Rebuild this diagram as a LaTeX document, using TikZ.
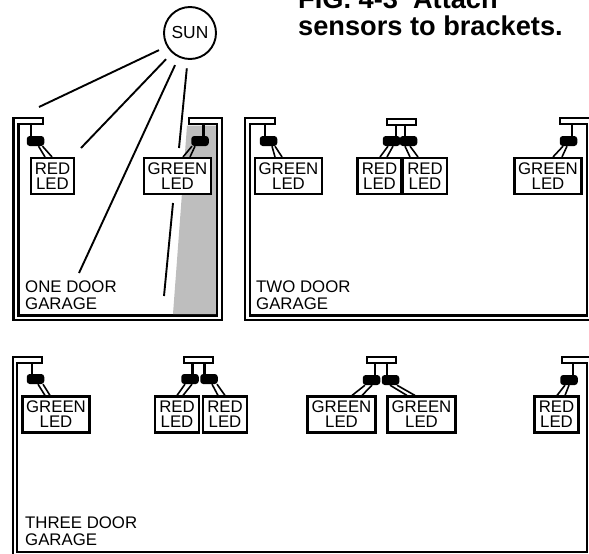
\documentclass[tikz,border=0pt]{standalone}
\usepackage{fontspec}
\setmainfont{Liberation Sans}
\usetikzlibrary{positioning}
\definecolor{shadow}{RGB}{190,190,190}
\tikzset{
  wall/.style={line width=2.3pt, fill=white, line join=miter},
  ledbox/.style={draw, line width=2.1pt, fill=white, inner sep=0pt, minimum height=36pt, align=center, font=\fontsize{16.8}{15}\selectfont},
  sensor/.style={fill=black, rounded corners=3pt, inner sep=0pt, minimum width=17.5pt, minimum height=10pt},
  plate/.style={draw, line width=2pt, fill=white, inner sep=0pt, minimum width=29pt, minimum height=6pt},
  stem/.style={line width=2.4pt},
  lead/.style={line width=1.6pt},
  sunray/.style={line width=1.9pt, shorten <=8.5pt},
  garagelabel/.style={inner sep=0pt, align=left, anchor=south west, font=\fontsize{16.8}{17.5}\selectfont}
}
\begin{document}
\begin{tikzpicture}[x=1pt, y=-1pt]
  \useasboundingbox (0,0) rectangle (589,554);

  % Title
  \node[inner sep=0pt, anchor=base west, align=left, font=\fontsize{27.2}{27}\selectfont\bfseries] (title) at (298,35) {FIG. 4-3\ \ Attach\\sensors to brackets.};

  % Garage walls
  \draw[wall] (43,118) -- (13.5,118) -- (13.5,320) -- (222,320) -- (222,118) -- (189,118) -- (189,124) -- (217,124) -- (217,315.5) -- (18.5,315.5) -- (18.5,124) -- (43,124) -- cycle;
  \draw[wall] (275,118) -- (245,118) -- (245,320) -- (600,320) -- (600,118) -- (560,118) -- (560,124) -- (587,124) -- (587,315.5) -- (250,315.5) -- (250,124) -- (275,124) -- cycle;
  \draw[wall] (42,357) -- (13,357) -- (13,560) -- (600,560) -- (600,357) -- (562,357) -- (562,363) -- (587,363) -- (587,552) -- (17,552) -- (17,363) -- (42,363) -- cycle;

  % Shadow in the one door garage
  \fill[shadow] (187,125.5) -- (215.8,125.5) -- (215.8,314) -- (173,314) -- cycle;

  % Brackets
  \coordinate (stubA) at (31,124);
  \coordinate (stubB) at (203.5,124);
  \coordinate (stubC) at (265,124);
  \coordinate (stubD) at (572,124);
  \coordinate (stubE) at (32,363);
  \coordinate (stubF) at (573,363);
  \node[plate] (plateA) at (401,122) {};
  \node[plate] (plateB) at (198.5,360) {};
  \node[plate] (plateC) at (381,360) {};

  % Sensors
  \node[sensor] (sensA) at (35.5,141) {};
  \node[sensor] (sensB) at (200,141) {};
  \node[sensor] (sensC) at (268.5,141) {};
  \node[sensor] (sensD) at (391.5,141) {};
  \node[sensor] (sensE) at (408.5,141) {};
  \node[sensor] (sensF) at (568.5,141) {};
  \node[sensor] (sensG) at (35.5,379) {};
  \node[sensor] (sensH) at (190,379) {};
  \node[sensor] (sensI) at (209,379) {};
  \node[sensor] (sensJ) at (371.5,380) {};
  \node[sensor] (sensK) at (390.5,380) {};
  \node[sensor] (sensL) at (569,380) {};

  % Stems
  \foreach \from in {stubA,stubB,stubC,stubD}
    \draw[stem] (\from) -- ++(0,13);
  \foreach \from in {stubE,stubF}
    \draw[stem] (\from) -- ++(0,12);
  \draw[stem] ([xshift=-5pt]plateA.south) -- ++(0,12);
  \draw[stem] ([xshift=4pt]plateA.south) -- ++(0,12);
  \draw[stem] ([xshift=-6pt]plateB.south) -- ++(0,13);
  \draw[stem] ([xshift=6pt]plateB.south) -- ++(0,13);
  \draw[stem] ([xshift=-6pt]plateC.south) -- ++(0,13);
  \draw[stem] ([xshift=6pt]plateC.south) -- ++(0,13);

  % LED boxes
  \node[ledbox, minimum width=43pt] (ledA) at (52.5,176) {RED\\LED};
  \node[ledbox, minimum width=67pt] (ledB) at (177.5,176) {GREEN\\LED};
  \node[ledbox, minimum width=67pt] (ledC) at (288.5,176) {GREEN\\LED};
  \node[ledbox, minimum width=44pt] (ledD) at (379.5,176) {RED\\LED};
  \node[ledbox, minimum width=44pt] (ledE) at (425,176) {RED\\LED};
  \node[ledbox, minimum width=67pt] (ledF) at (548,176) {GREEN\\LED};
  \node[ledbox, minimum width=67pt] (ledG) at (56,414.5) {GREEN\\LED};
  \node[ledbox, minimum width=44pt] (ledH) at (177,414.5) {RED\\LED};
  \node[ledbox, minimum width=44pt] (ledI) at (225,414.5) {RED\\LED};
  \node[ledbox, minimum width=68pt] (ledJ) at (341.5,414.5) {GREEN\\LED};
  \node[ledbox, minimum width=68pt] (ledK) at (421.5,414.5) {GREEN\\LED};
  \node[ledbox, minimum width=44pt] (ledL) at (556.5,414.5) {RED\\LED};

  % Leads: sensor, box, then the two wire offsets at each end
  \foreach \sens/\led/\sa/\la/\sb/\lb in {
      sensA/ledA/3/-7.5/7/-0.5, sensB/ledB/-8/5.5/-5/12.5,
      sensC/ledC/3.5/-13.5/6.5/-6.5, sensD/ledD/-3.5/0.5/1.5/7.5,
      sensE/ledE/-3.5/-15/1.5/-7, sensF/ledF/-5.5/5/-1.5/14,
      sensG/ledG/2.5/-11/7.5/-6, sensH/ledH/-5/0/2/6,
      sensI/ledI/3/-7/8/0, sensJ/ledJ/-6.5/10.5/0.5/20.5,
      sensK/ledK/-0.5/-14.5/6.5/-6.5, sensL/ledL/-4/0.5/0/8.5}{
    \draw[lead] ([xshift=\sa pt]\sens.south) -- ([xshift=\la pt]\led.north);
    \draw[lead] ([xshift=\sb pt]\sens.south) -- ([xshift=\lb pt]\led.north);
  }

  % Sun and its rays
  \node[draw, circle, line width=1.9pt, fill=white, inner sep=0pt, minimum size=52pt, font=\fontsize{17.4}{17}\selectfont] (sun) at (190,33) {SUN};
  \coordinate (rayA) at (39,107);
  \coordinate (rayB) at (81,148);
  \coordinate (rayC) at (79,273);
  \coordinate (rayD) at (179,148);
  \coordinate (bounceA) at (173,203);
  \coordinate (bounceB) at (164,296);
  \draw[sunray] (sun.210) -- (rayA);
  \draw[sunray] (sun.228) -- (rayB);
  \draw[sunray] (sun.245) -- (rayC);
  \draw[sunray] (sun.265) -- (rayD);
  \draw[line width=1.9pt] (bounceA) -- (bounceB);

  % Garage names
  \node[garagelabel] (nameA) at (25,310) {ONE DOOR\\GARAGE};
  \node[garagelabel] (nameB) at (256,310) {TWO DOOR\\GARAGE};
  \node[garagelabel] (nameC) at (25,546) {THREE DOOR\\GARAGE};
\end{tikzpicture}
\end{document}
